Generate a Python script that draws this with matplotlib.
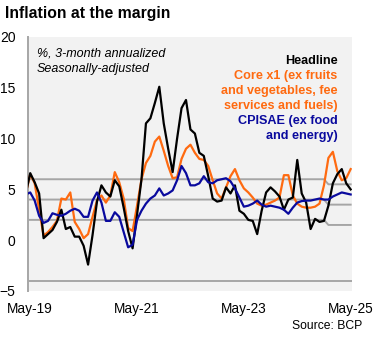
import numpy as np
import pandas as pd
import matplotlib
matplotlib.use("Agg")
import matplotlib.pyplot as plt

plt.rcParams['font.family'] = ['Liberation Sans', 'DejaVu Sans']

# Monthly data, Apr-19 .. May-25 (first point falls just outside the plot)
months = pd.period_range('2019-04', '2025-05', freq='M')

headline = [4.6, 6.6, 5.7, 4.6, 0.2, 0.6, 1.0, 1.8, 3.0, 1.1, 1.3, 0.35, 0.35, -0.55,
            -2.4, 0.5, 3.8, 5.4, 4.7, 4.3, 5.9, 5.3, 3.2, 0.9, -0.8, 2.5, 6.0, 11.5,
            12.0, 13.5, 15.1, 11.5, 9.0, 6.7, 10.0, 13.0, 13.8, 10.9, 10.5, 8.6, 8.3,
            6.3, 4.1, 3.8, 3.9, 5.2, 4.6, 5.4, 2.9, 2.6, 2.0, 1.9, 0.6, 2.9, 4.7, 5.2,
            4.8, 4.3, 3.0, 4.0, 4.2, 7.9, 4.6, 3.7, 1.1, 2.1, 1.8, 1.9, 3.4, 5.6, 6.5,
            7.0, 5.6, 5.0]

core_x1 = [4.6, 6.5, 5.6, 3.0, 0.45, 0.8, 1.3, 1.9, 4.1, 4.0, 4.7, 1.8, 1.1, 0.2,
           0.6, 2.3, 3.9, 4.4, 3.7, 4.4, 6.7, 5.7, 4.1, 1.2, 0.9, 3.4, 6.0, 7.6, 8.3,
           9.7, 10.2, 8.8, 7.3, 6.1, 6.2, 8.0, 9.0, 9.4, 8.6, 8.0, 7.9, 7.3, 5.9, 4.6,
           4.1, 5.2, 6.3, 7.0, 5.9, 5.1, 4.7, 4.2, 3.6, 3.4, 3.5, 3.7, 3.9, 4.2, 6.4,
           6.4, 4.4, 3.6, 3.3, 3.2, 3.2, 3.3, 3.6, 5.4, 8.1, 8.7, 6.8, 5.9, 6.1, 7.0]

cpisae = [4.5, 4.7, 3.9, 2.4, 1.7, 1.9, 2.65, 2.5, 2.4, 2.6, 2.9, 3.1, 2.9, 2.3, 2.3,
          3.9, 4.7, 3.7, 1.9, 1.9, 2.75, 2.3, 0.8, -0.7, -0.45, 2.0, 2.9, 3.6, 4.1,
          4.4, 5.1, 4.4, 4.6, 4.9, 5.9, 7.3, 6.6, 5.4, 5.4, 5.6, 6.3, 5.7, 5.6, 5.9,
          6.0, 6.1, 5.8, 5.1, 4.2, 3.3, 3.4, 3.6, 3.9, 3.5, 3.3, 3.4, 3.3, 3.2, 3.0,
          2.6, 3.2, 3.7, 3.85, 3.9, 3.9, 4.0, 4.1, 4.0, 4.0, 4.3, 4.5, 4.7, 4.6, 4.5]

# Inflation target band (centre and +/- range); target lowered from 4% to 3.5%
target = [4.0] * 68 + [3.5] * 6
band_width = 2.0
floor_line = -4.0

x_tick_labels = ['May-19', 'May-21', 'May-23', 'May-25']
y_ticks = [-5, 0, 5, 10, 15, 20]

n = len(months)
assert len(headline) == n and len(core_x1) == n and len(cpisae) == n and len(target) == n
x = np.arange(n) - 1  # May-19 -> 0
tgt = np.array(target)

fig = plt.figure(figsize=(3.75, 3.38), dpi=100)
ax = fig.add_axes([28/375, 1 - 291/338, (352 - 28)/375, (291 - 37)/338])
ax.set_facecolor('#F2F2F2')

grey = '#A6A6A6'
for off in (band_width, 0, -band_width):
    ax.plot(x, tgt + off, color=grey, lw=1.4, zorder=1)
ax.axhline(floor_line, color=grey, lw=1.4, zorder=1)

ax.plot(x, core_x1, color='#FF6A10', lw=1.6, zorder=3)
ax.plot(x, headline, color='black', lw=1.6, zorder=4)
ax.plot(x, cpisae, color='#0A0A9E', lw=1.6, zorder=5)

ax.set_xlim(-0.5, 72.3)
ax.set_ylim(-5, 20)
ax.set_yticks(y_ticks)
ax.set_xticks([0, 24, 48, 72])
ax.set_xticklabels(x_tick_labels)
ax.tick_params(axis='both', length=0, labelsize=9.8, colors='black')
ax.tick_params(axis='y', pad=9, labelsize=10)
ax.tick_params(axis='x', pad=8)
for s in ('top', 'right', 'bottom'):
    ax.spines[s].set_visible(False)
ax.spines['left'].set_color(grey)
ax.spines['left'].set_linewidth(1.4)

fig.text(5/375, 1 - 18/338, 'Inflation at the margin', fontsize=11.3,
         fontweight='bold', ha='left', va='baseline')
fig.text(36.7/375, 1 - 56.7/338, '%, 3-month annualized', fontsize=9,
         style='italic', ha='left', va='baseline')
fig.text(36.7/375, 1 - 71.7/338, 'Seasonally-adjusted', fontsize=9,
         style='italic', ha='left', va='baseline')

legend_lines = [
    ('Headline', 'black'),
    ('Core x1 (ex fruits', '#FF6A10'),
    ('and vegetables, fee', '#FF6A10'),
    ('services and fuels)', '#FF6A10'),
    ('CPISAE (ex food', '#0A0A9E'),
    ('and energy)', '#0A0A9E'),
]
for i, (txt, col) in enumerate(legend_lines):
    fig.text(337.3/375, 1 - (64 + 15*i)/338, txt, fontsize=9.1, fontweight='bold',
             color=col, ha='right', va='baseline')

fig.text(362.7/375, 1 - 329/338, 'Source: BCP', fontsize=8.7, ha='right', va='baseline')

fig.savefig('out.png', dpi=100)
